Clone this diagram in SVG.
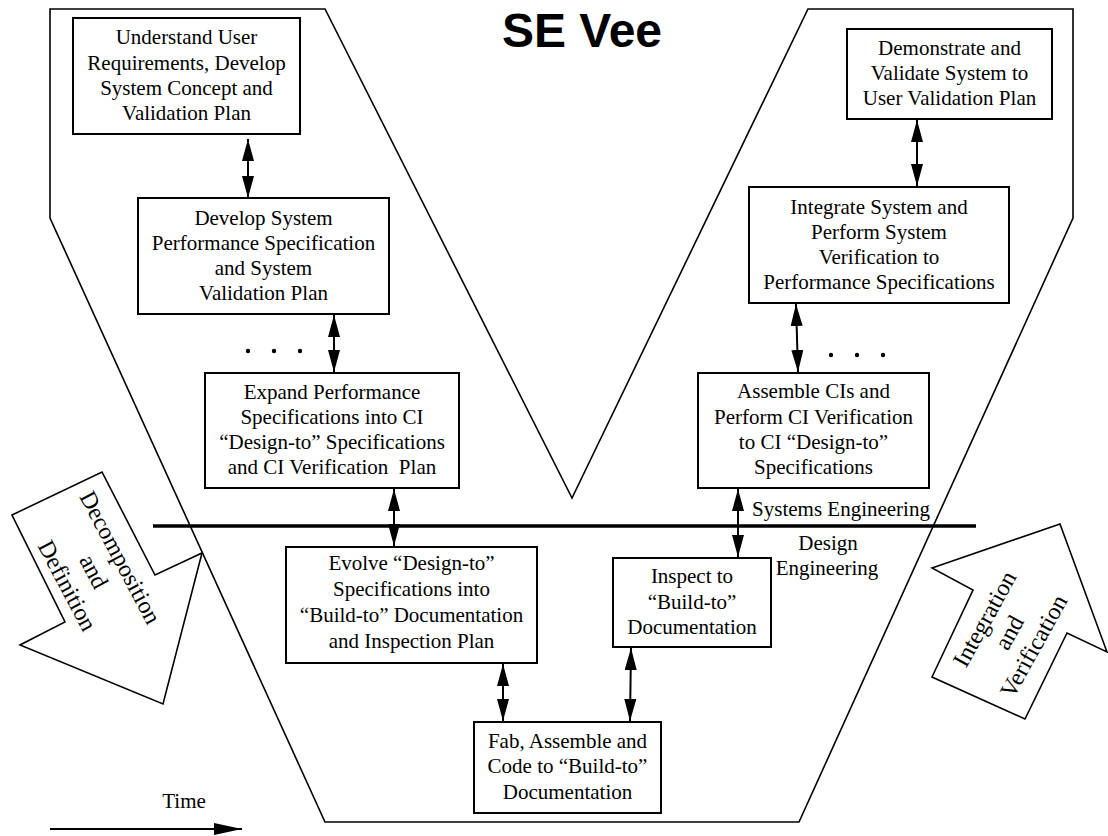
<svg xmlns="http://www.w3.org/2000/svg" width="1108" height="836" viewBox="0 0 1108 836">
  <style>
    .box { fill: #ffffff; stroke: #000000; stroke-width: 2; }
    .outline { fill: none; stroke: #000000; stroke-width: 1.6; stroke-linejoin: miter; }
    .lbl { font-family: "Liberation Serif", "Times New Roman", serif; font-size: 21px; fill: #000000; text-anchor: middle; }
    .big { font-family: "Liberation Serif", "Times New Roman", serif; font-size: 24px; fill: #000000; text-anchor: middle; }
    .link { fill: none; stroke: #000000; stroke-width: 2; marker-start: url(#head); marker-end: url(#head); }
    .dot { fill: #000000; }
  </style>
  <defs>
    <marker id="head" viewBox="0 0 22 12" refX="22" refY="6" markerWidth="22" markerHeight="12" markerUnits="userSpaceOnUse" orient="auto-start-reverse">
      <path d="M0,0 L22,6 L0,12 Z" fill="#000000"/>
    </marker>
    <marker id="timehead" viewBox="0 0 28 12" refX="28" refY="6" markerWidth="28" markerHeight="12" markerUnits="userSpaceOnUse" orient="auto">
      <path d="M0,0 L28,6 L0,12 Z" fill="#000000"/>
    </marker>
  </defs>

  <rect x="0" y="0" width="1108" height="836" fill="#ffffff"/>

  <!-- Vee outline -->
  <g id="vee">
    <path class="outline" d="M50,9 L325,9 L572,498 L808,9 L1073,9 L1073,218 L799,822 L325,822 L50,218 Z"/>
  </g>

  <!-- Title -->
  <text x="582" y="47" font-family="Liberation Sans, Arial, sans-serif" font-size="48" font-weight="bold" text-anchor="middle">SE Vee</text>

  <!-- Boundary between systems and design engineering -->
  <g id="boundary">
    <line x1="153" y1="526" x2="976" y2="526" stroke="#000000" stroke-width="3.5"/>
    <text class="lbl" x="841" y="516">Systems Engineering</text>
    <text class="lbl" x="828" y="550">Design</text>
    <text class="lbl" x="827" y="575">Engineering</text>
  </g>

  <!-- Connectors -->
  <g id="connectors">
    <line class="link" x1="248" y1="139" x2="248" y2="198"/>
    <line class="link" x1="334" y1="315" x2="334" y2="372"/>
    <line class="link" x1="394" y1="489" x2="394" y2="546"/>
    <line class="link" x1="503" y1="664" x2="503" y2="721"/>
    <line class="link" x1="631" y1="648" x2="630" y2="721"/>
    <line class="link" x1="738" y1="489" x2="738" y2="557"/>
    <line class="link" x1="796" y1="304" x2="798" y2="372"/>
    <line class="link" x1="917" y1="120" x2="917" y2="186"/>
  </g>

  <!-- Continuation dots -->
  <g id="dots">
    <circle class="dot" cx="248" cy="351" r="2.2"/>
    <circle class="dot" cx="274" cy="351" r="2.2"/>
    <circle class="dot" cx="300" cy="351" r="2.2"/>
    <circle class="dot" cx="831" cy="355" r="2.2"/>
    <circle class="dot" cx="857" cy="355" r="2.2"/>
    <circle class="dot" cx="883" cy="355" r="2.2"/>
  </g>

  <!-- Left side: decomposition and definition -->
  <g id="n1">
    <rect class="box" x="73" y="18" width="227" height="116"/>
    <text class="lbl" x="186.5" y="44">Understand User</text>
    <text class="lbl" x="186.5" y="69.5">Requirements, Develop</text>
    <text class="lbl" x="186.5" y="95">System Concept and</text>
    <text class="lbl" x="186.5" y="120">Validation Plan</text>
  </g>
  <g id="n2">
    <rect class="box" x="138" y="198" width="251" height="116"/>
    <text class="lbl" x="263.5" y="225">Develop System</text>
    <text class="lbl" x="263.5" y="250">Performance Specification</text>
    <text class="lbl" x="263.5" y="275">and System</text>
    <text class="lbl" x="263.5" y="300">Validation Plan</text>
  </g>
  <g id="n3">
    <rect class="box" x="205" y="373" width="254" height="115"/>
    <text class="lbl" x="332" y="399">Expand Performance</text>
    <text class="lbl" x="332" y="424">Specifications into CI</text>
    <text class="lbl" x="332" y="449">“Design-to” Specifications</text>
    <text class="lbl" x="332" y="474" xml:space="preserve">and CI Verification  Plan</text>
  </g>
  <g id="n4">
    <rect class="box" x="286" y="547" width="251" height="116"/>
    <text class="lbl" x="411.5" y="570">Evolve “Design-to”</text>
    <text class="lbl" x="411.5" y="596">Specifications into</text>
    <text class="lbl" x="411.5" y="622">“Build-to” Documentation</text>
    <text class="lbl" x="411.5" y="648">and Inspection Plan</text>
  </g>

  <!-- Bottom of the Vee -->
  <g id="n5">
    <rect class="box" x="474" y="722" width="187" height="91"/>
    <text class="lbl" x="567.5" y="748">Fab, Assemble and</text>
    <text class="lbl" x="567.5" y="773">Code to “Build-to”</text>
    <text class="lbl" x="567.5" y="799">Documentation</text>
  </g>

  <!-- Right side: integration and verification -->
  <g id="n6">
    <rect class="box" x="613" y="558" width="158" height="89"/>
    <text class="lbl" x="692" y="583">Inspect to</text>
    <text class="lbl" x="692" y="609">“Build-to”</text>
    <text class="lbl" x="692" y="634">Documentation</text>
  </g>
  <g id="n7">
    <rect class="box" x="698" y="373" width="231" height="115"/>
    <text class="lbl" x="813.5" y="398">Assemble CIs and</text>
    <text class="lbl" x="813.5" y="424">Perform CI Verification</text>
    <text class="lbl" x="813.5" y="449">to CI “Design-to”</text>
    <text class="lbl" x="813.5" y="474">Specifications</text>
  </g>
  <g id="n8">
    <rect class="box" x="749" y="187" width="260" height="116"/>
    <text class="lbl" x="879" y="214">Integrate System and</text>
    <text class="lbl" x="879" y="239">Perform System</text>
    <text class="lbl" x="879" y="264">Verification to</text>
    <text class="lbl" x="879" y="289">Performance Specifications</text>
  </g>
  <g id="n9">
    <rect class="box" x="847" y="29" width="205" height="90"/>
    <text class="lbl" x="949.5" y="55">Demonstrate and</text>
    <text class="lbl" x="949.5" y="80">Validate System to</text>
    <text class="lbl" x="949.5" y="105">User Validation Plan</text>
  </g>

  <!-- Process direction arrows -->
  <g id="decomposition">
    <polygon class="outline" points="12,515 102,472 155,575 202,553 163,704 20,645 65,622"/>
    <g transform="translate(93,572) rotate(62)">
      <text class="big" x="0" y="-23">Decomposition</text>
      <text class="big" x="0" y="7">and</text>
      <text class="big" x="0" y="37">Definition</text>
    </g>
  </g>
  <g id="integration">
    <polygon class="outline" points="932,568 1060,524 1107,652 1067,633 1025,719 932,677 973,590"/>
    <g transform="translate(1010,633) rotate(-61)">
      <text class="big" x="0" y="-21">Integration</text>
      <text class="big" x="0" y="7">and</text>
      <text class="big" x="0" y="35">Verification</text>
    </g>
  </g>

  <!-- Time axis -->
  <g id="time">
    <text class="lbl" x="184" y="808" font-size="20">Time</text>
    <line x1="50" y1="829" x2="242" y2="829" stroke="#000000" stroke-width="2" marker-end="url(#timehead)"/>
  </g>
</svg>
